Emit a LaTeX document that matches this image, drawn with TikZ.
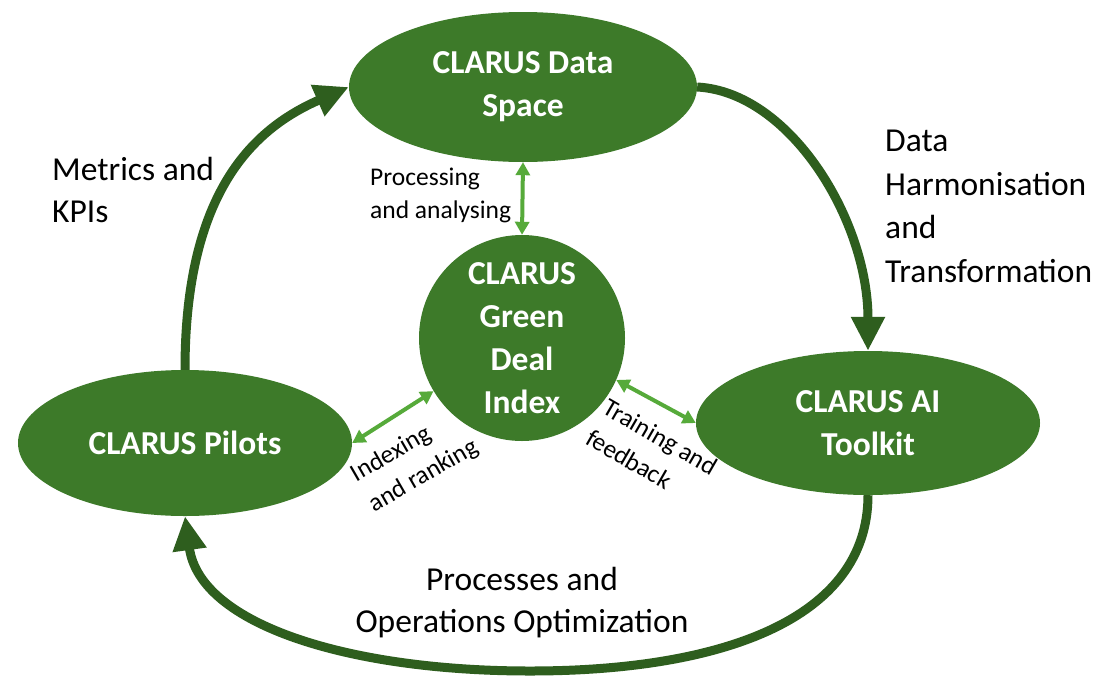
\documentclass[tikz,border=0pt]{standalone}
\usepackage{fontspec}
\setmainfont{Carlito}
\usetikzlibrary{arrows.meta,shapes.geometric}
\definecolor{nodegreen}{RGB}{61,122,41}
\definecolor{darkarrow}{RGB}{46,94,30}
\definecolor{lightarrow}{RGB}{86,170,58}
\tikzset{
  ovalbox/.style={ellipse, fill=nodegreen, draw=none, inner sep=0pt, text=white, align=center,
    font=\fontsize{33.5}{43}\selectfont\bfseries},
  roundbox/.style={circle, fill=nodegreen, draw=none, inner sep=0pt, text=white, align=center,
    minimum size=206pt, font=\fontsize{33.5}{43}\selectfont\bfseries},
  bigflow/.style={draw=darkarrow, line width=9pt, -{Triangle[length=34pt,width=32pt]}},
  smallflow/.style={draw=lightarrow, line width=4pt, {Triangle[length=13pt,width=14pt]}-{Triangle[length=13pt,width=14pt]}},
  biglabel/.style={inner sep=0pt, align=left, font=\fontsize{33.5}{42}\selectfont},
  smalllabel/.style={inner sep=0pt, align=left, font=\fontsize{25.5}{33}\selectfont},
  tiltlabel/.style={inner sep=0pt, align=left, font=\fontsize{25.5}{35}\selectfont},
}
\begin{document}
\begin{tikzpicture}[x=1pt,y=-1pt]
\useasboundingbox (0,0) rectangle (1102,675);
\fill[white] (0,0) rectangle (1102,675);

% main nodes
\node[ovalbox, minimum width=348pt, minimum height=150pt] (space) at (523,87) {CLARUS Data\\Space};
\node[ovalbox, minimum width=334pt, minimum height=146pt] (pilots) at (185,443) {CLARUS Pilots};
\node[ovalbox, minimum width=344pt, minimum height=144pt] (ai) at (868,423) {CLARUS AI\\Toolkit};
\node[roundbox] (gdi) at (522,338) {CLARUS\\Green\\Deal\\Index};

% big cycle arrows
\draw[bigflow] (pilots.north) .. controls (185,190) and (255,128) .. (space.west);
\draw[bigflow] (space.east) .. controls (790,92) and (868,220) .. (ai.north);
\coordinate (bottom) at (530,671);
\draw[bigflow] (ai.south) .. controls (868,620) and (720,671) .. (bottom)
  .. controls (350,671) and (200,625) .. (pilots.south);

% small double arrows
\draw[smallflow] (space.south) -- (gdi.north);
\draw[smallflow] (gdi.211) -- (pilots.east);
\draw[smallflow] (gdi.336) -- (ai.west);

% labels (base anchor = baseline of the last line)
\node[biglabel, anchor=base west] (metrics) at (52,222) {Metrics and\\KPIs};
\node[biglabel, anchor=base west, font=\fontsize{33.5}{43.5}\selectfont] (harm) at (885,282) {Data\\Harmonisation\\and\\Transformation};
\node[smalllabel, anchor=base west] (proc) at (370,218) {Processing\\and analysing};
\node[biglabel, align=center, anchor=base] (ops) at (522,632) {Processes and\\Operations Optimization};
\node[tiltlabel, rotate=30] (idx) at (415,461) {Indexing\\and ranking};
\node[tiltlabel, rotate=-30] (train) at (652,452) {Training and\\feedback};
\end{tikzpicture}
\end{document}
